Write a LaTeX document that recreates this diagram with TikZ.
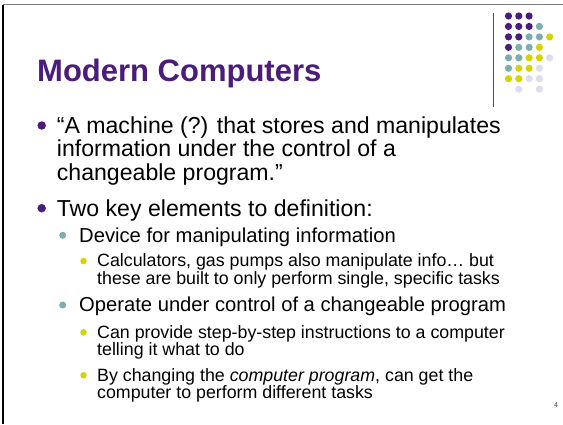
\documentclass[tikz,border=0pt]{standalone}
\usepackage{fontspec}
\setmainfont{Liberation Sans}
\definecolor{ppurple}{HTML}{4B1C7B}
\definecolor{tteal}{HTML}{7BAFAF}
\definecolor{yyellow}{HTML}{D6D300}
\definecolor{llav}{HTML}{DDDDEE}
\tikzset{
  lone/.style={anchor=base west, inner sep=0pt, font=\fontsize{23.1}{25}\selectfont},
  ltwo/.style={anchor=base west, inner sep=0pt, font=\fontsize{20.2}{22}\selectfont},
  lthree/.style={anchor=base west, inner sep=0pt, font=\fontsize{17.8}{18}\selectfont},
  bone/.style={circle, fill=ppurple, inner sep=0pt, minimum size=8.5pt},
  btwo/.style={circle, fill=tteal, inner sep=0pt, minimum size=7pt},
  bthree/.style={circle, fill=yyellow, inner sep=0pt, minimum size=6.5pt},
  gdot/.style={circle, inner sep=0pt, minimum size=7.2pt},
}
\begin{document}
\begin{tikzpicture}[x=1pt,y=-1pt]
\useasboundingbox (0,0) rectangle (563,424);
\fill[white] (0,0) rectangle (563,424);
% frame
\draw[gray, line width=1.5pt] (2.5,4.5) -- (563,4.5);
\draw[black, line width=1.5pt] (3,4.5) -- (3,424);
\draw[black!70, line width=1pt] (493,13) -- (493,107);
% dot grid
\foreach \r/\i/\cc in {0/0/ppurple,0/1/ppurple,0/2/ppurple,
  1/0/ppurple,1/1/ppurple,1/2/ppurple,1/3/tteal,
  2/0/ppurple,2/1/ppurple,2/2/tteal,2/3/tteal,2/4/yyellow,
  3/0/ppurple,3/1/tteal,3/2/tteal,3/3/yyellow,
  4/0/tteal,4/1/tteal,4/2/yyellow,4/3/yyellow,4/4/llav,
  5/0/tteal,5/1/yyellow,5/2/yyellow,5/3/llav,
  6/0/yyellow,6/1/yyellow,6/2/llav,6/3/llav,
  7/1/llav,7/3/llav}{
  \node[gdot, fill=\cc] (d\r\i) at ({508.5+10.3*\i},{16+10.45*\r}) {};
}
% title
\node[anchor=base west, inner sep=0pt, text=ppurple, font=\fontsize{31}{36}\selectfont\bfseries] (title) at (37,81.7) {Modern Computers};
% level 1
\node[bone] (b1) at (41.7,125.5) {};
\node[lone] (t1a) at (56.7,133.3) {“A machine (?) that stores and manipulates};
\node[lone] (t1b) at (56.7,156.7) {information under the control of a};
\node[lone] (t1c) at (56.7,180) {changeable program.”};
\node[bone] (b2) at (41.7,208.2) {};
\node[lone] (t2) at (56.7,216) {Two key elements to definition:};
% level 2
\node[btwo] (b21) at (62.7,235.3) {};
\node[ltwo] (t21) at (79,242) {Device for manipulating information};
\node[bthree] (b31) at (83.5,261) {};
\node[lthree] (t31a) at (97,266.7) {Calculators, gas pumps also manipulate info… but};
\node[lthree] (t31b) at (97,284.5) {these are built to only perform single, specific tasks};
\node[btwo] (b22) at (62.7,305) {};
\node[ltwo] (t22) at (79,311.7) {Operate under control of a changeable program};
\node[bthree] (b32) at (83.5,332.3) {};
\node[lthree] (t32a) at (97,338) {Can provide step-by-step instructions to a computer};
\node[lthree] (t32b) at (97,355.5) {telling it what to do};
\node[bthree] (b33) at (83.5,375.3) {};
\node[lthree] (t33a) at (97,381) {By changing the \textit{computer program}, can get the};
\node[lthree] (t33b) at (97,398.5) {computer to perform different tasks};
% page number
\node[anchor=base, inner sep=0pt, font=\fontsize{7}{8}\selectfont, text=black!70] (pg) at (556,407.5) {4};
\end{tikzpicture}
\end{document}
